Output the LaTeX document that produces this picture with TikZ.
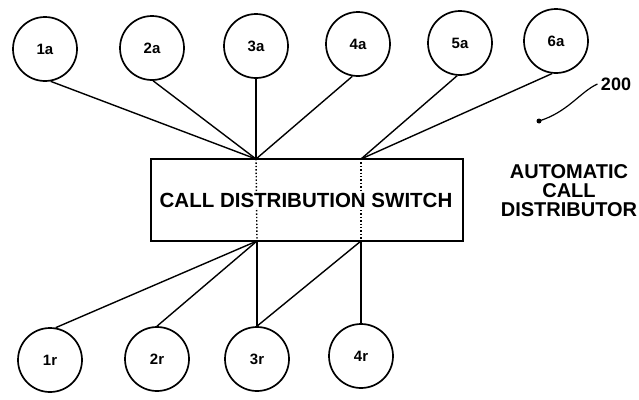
\documentclass[tikz,border=0pt]{standalone}
\usepackage{fontspec}
\setmainfont{Liberation Sans}
\usetikzlibrary{arrows.meta}

\begin{document}
\begin{tikzpicture}[x=1pt, y=-1pt,
    station/.style={draw, circle, line width=1.7pt, minimum size=64pt, inner sep=0pt,
      font=\fontsize{15}{15}\selectfont\bfseries},
    link/.style={line width=1.4pt},
    probe/.style={line width=1.4pt, dotted}]
  \useasboundingbox (0,0) rectangle (639,399);
  % agent stations
  \node[station] (a1) at (45,49) {1a};
  \node[station] (a2) at (152,48) {2a};
  \node[station] (a3) at (256,46) {3a};
  \node[station] (a4) at (358,44) {4a};
  \node[station] (a5) at (460,43) {5a};
  \node[station] (a6) at (556,41) {6a};
  % r stations
  \node[station] (r1) at (50,360) {1r};
  \node[station] (r2) at (157,359) {2r};
  \node[station] (r3) at (257,359) {3r};
  \node[station] (r4) at (361,356) {4r};
  % switch
  \coordinate (tA) at (256,159); \coordinate (tB) at (361,159);
  \coordinate (bA) at (257,241); \coordinate (bB) at (361,241);
  \draw[probe] (tA)--(bA); \draw[probe] (tB)--(bB);
  \node[draw, line width=2pt, minimum width=312pt, minimum height=82pt] (switch) at (307,200) {};
  \node[fill=white, inner sep=1pt, font=\fontsize{20.5}{20}\selectfont\bfseries] (swlabel) at (306,200)
    {CALL DISTRIBUTION SWITCH};
  \draw[link] (a1.-80)--(tA); \draw[link] (a2.-88)--(tA); \draw[link] (a3.south)--(tA);
  \draw[link] (a4.-100)--(tA);
  \draw[link] (a5.-95)--(tB); \draw[link] (a6.-97)--(tB);
  \draw[link] (r1.80)--(bA); \draw[link] (r2.north)--(bA); \draw[link] (r3.north)--(bA);
  \draw[link] (r3.north)--(bB); \draw[link] (r4.north)--(bB);
  % reference numeral
  \node[font=\fontsize{18}{18}\selectfont\bfseries] (n200) at (616,84) {200};
  \coordinate (lead) at (539,121);
  \draw[line width=1.2pt] (n200.west) .. controls (580,92) and (568,112) .. (lead);
  \fill (lead) circle (2.5pt);
  \node[align=center, font=\fontsize{20}{19}\selectfont\bfseries] (acd) at (569,191)
    {AUTOMATIC\\CALL\\DISTRIBUTOR};
\end{tikzpicture}
\end{document}
